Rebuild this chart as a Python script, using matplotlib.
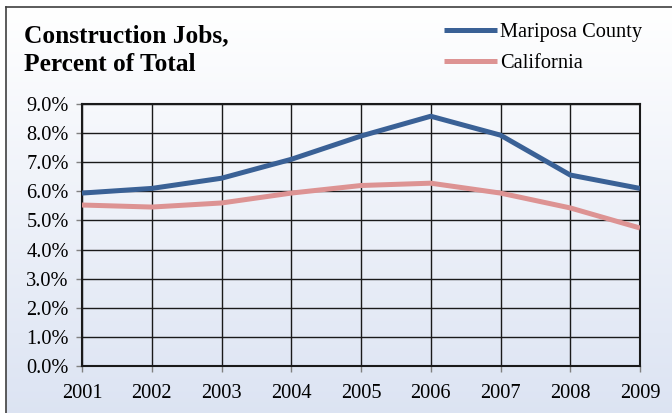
import matplotlib.pyplot as plt
import numpy as np

# data
years = ['2001', '2002', '2003', '2004', '2005', '2006', '2007', '2008', '2009']
mariposa = [5.94, 6.10, 6.45, 7.10, 7.90, 8.58, 7.93, 6.56, 6.10]
california = [5.53, 5.46, 5.60, 5.94, 6.20, 6.28, 5.94, 5.43, 4.74]

plt.rcParams['font.family'] = ['Liberation Serif', 'DejaVu Serif']

fig = plt.figure(figsize=(6.72, 4.13), dpi=100)

# background gradient inside the frame (frame runs off the right and bottom edges)
bg = fig.add_axes([6/672, -10/413, 680/672, 416/413], zorder=-10)
grad = np.linspace(0, 1, 256).reshape(-1, 1)
top = np.array([1.0, 1.0, 1.0])
bottom = np.array([0.86, 0.89, 0.95])
img = top + (bottom - top) * grad[..., None]
bg.imshow(img, aspect='auto', extent=[0, 1, 0, 1])
bg.set_xticks([])
bg.set_yticks([])
for s in bg.spines.values():
    s.set_color('#404040')
    s.set_linewidth(1.2)

ax = fig.add_axes([82/672, 1 - 366/413, (640-82)/672, (366-104)/413])
ax.patch.set_alpha(0)
x = np.arange(len(years))
ax.plot(x, mariposa, color='#3A6196', lw=3.6, solid_capstyle='butt', label='Mariposa County', zorder=3)
ax.plot(x, california, color='#DD9393', lw=3.6, solid_capstyle='butt', label='California', zorder=3)

ax.set_xlim(0, len(years) - 1)
ax.set_ylim(0, 9)
ax.set_xticks(x)
ax.set_xticklabels(years)
ax.set_yticks(np.arange(0, 9.1, 1))
ax.set_yticklabels([f'{v:.1f}%' for v in np.arange(0, 9.1, 1)])
ax.tick_params(labelsize=14.7, length=4.5, width=1, color='#808080')
ax.tick_params(axis='x', pad=8.5)
ax.tick_params(axis='y', pad=5)
ax.grid(True, color='#1a1a1a', lw=1)
for s in ax.spines.values():
    s.set_linewidth(1.5)
    s.set_color('#1a1a1a')

fig.text(24/672, 1 - 24/413, 'Construction Jobs,\nPercent of Total', fontsize=18.3,
         fontweight='bold', va='top', ha='left', linespacing=1.33)

ax.legend(loc='upper left', bbox_to_anchor=(444/672, 1 - 23/413), bbox_transform=fig.transFigure,
          frameon=False, fontsize=14.7, handlelength=2.6, handletextpad=0.15, labelspacing=0.55,
          borderpad=0, borderaxespad=0)

plt.savefig('out.png', dpi=100)
plt.close()
